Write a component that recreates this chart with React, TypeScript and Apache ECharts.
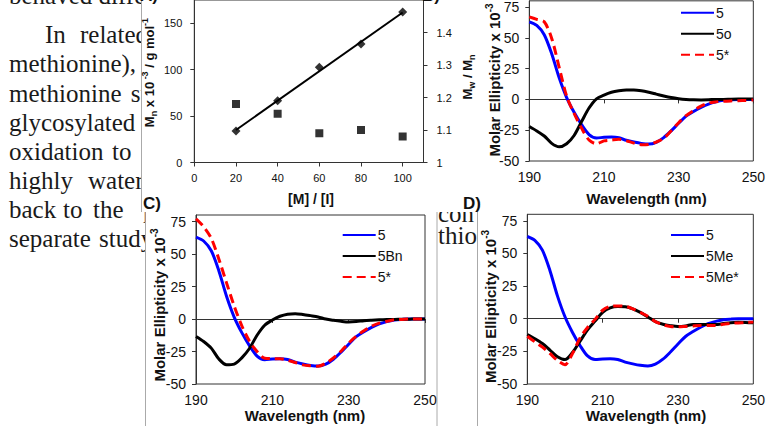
import React, { useEffect, useRef } from 'react';
import * as echarts from 'echarts';

// ---------- Panel A: Mn and Mw/Mn versus [M]/[I] ----------
const ratioMI = [20, 40, 60, 80, 100];
const mnValues = [34, 66.5, 102.5, 127.5, 162];
const pdiValues = [1.18, 1.15, 1.09, 1.1, 1.08];
const fitRatio = [20, 100];
const fitMn = [35, 161.5];

// ---------- CD spectra (wavelength, nm) ----------
const WL_START = 190;
const wavelengths = [190, 192, 194, 196, 198, 200, 202, 204, 206, 208, 210, 212, 214, 216, 218, 220, 222, 224, 226, 228, 230, 232, 234, 236, 238, 240, 242, 244, 246, 248, 250];
const cd5 = [63, 60, 52.5, 37, 17.5, 1.5, -10.5, -20.5, -28.5, -31.3, -30.8, -30.6, -31.2, -33.2, -34.6, -35.7, -36.2, -34.8, -31, -25.5, -19.4, -13.6, -9.8, -6.5, -3.8, -2, -0.8, -0.3, 0, 0, 0];
const cd5o = [-22, -25.6, -29.7, -35.7, -38.5, -36, -29.3, -18, -7, 0.5, 3.5, 5.8, 7, 7.6, 7.6, 7, 5.8, 4.3, 2.8, 1.5, 0.6, 0, -0.3, -0.4, -0.3, 0, 0, 0.2, 0.3, 0.3, 0.3];
const cd5starB = [67, 65, 63, 49.5, 26, 2.6, -11.4, -23.3, -33, -36, -33.7, -33, -32.4, -33.5, -35.5, -36.8, -36.5, -34.6, -31.6, -25.5, -18.9, -13.2, -9, -5.5, -3, -2, -1.5, -1.2, -1, -0.8, -0.5];
const cd5Bn = [-13.4, -17.3, -22.4, -30.8, -35.2, -34.7, -29.9, -22.7, -12.5, -4.8, -0.8, 2.1, 3.7, 4.1, 3.5, 2.6, 1.6, 0, -1, -1.8, -2.3, -2, -1.3, -0.9, -0.6, -0.4, -0.3, -0.2, -0.1, 0, 0];
const cd5starC = [77, 71, 62, 46, 27.8, 10, -5.2, -17, -25, -30.2, -30.5, -30.6, -31.7, -33.5, -35.3, -36, -36.3, -34, -30, -24.8, -18.5, -13.2, -9, -5.5, -3.2, -1.8, -0.6, -0.3, 0, 0, 0];
const cd5Me = [-12.1, -15.3, -19, -24, -29.1, -31.3, -25.9, -17.2, -8.5, -1.8, 4.9, 8.3, 9.3, 9.2, 7.6, 4.9, 1.4, -2.2, -4.2, -5.3, -6, -5.5, -4.4, -4.4, -4.4, -4.4, -3.7, -3, -2.7, -2.8, -3.1];
const cd5MeStar = [-13.4, -17.7, -21.7, -26.6, -32, -35.2, -26.6, -14.7, -6.7, -0.5, 6.5, 9.5, 9.8, 9.5, 7.6, 4.8, 1.8, -2.2, -4.6, -6, -6.2, -5.9, -5.5, -5.2, -5.2, -5.2, -4.3, -3.5, -3.2, -2.9, -2.6];

const legendB = ['5', '5o', '5*'];
const legendC = ['5', '5Bn', '5*'];
const legendD = ['5', '5Me', '5Me*'];

// ---------- background paragraph text ----------
const paragraphWords: [string, number, number][] = [
  ['behaved differently', 9, 3.5],
  ['In', 45, 42.7],
  ['related', 80, 42.7],
  ['methionine), and', 9, 71.7],
  ['methionine', 9, 101.7],
  ['sulfoxide', 130.7, 101.7],
  ['glycosylated', 9, 131],
  ['oxidation', 9, 160],
  ['to', 112, 160],
  ['highly', 9, 189.3],
  ['water', 88, 189.3],
  ['back', 9, 218.3],
  ['to', 63, 218.3],
  ['the', 93, 218.3],
  ['parent', 143, 218.3],
  ['separate', 9, 247.3],
  ['study', 99, 247.3],
  ['con', 438, 222],
  ['thion', 438, 244],
];

const SANS = '"Liberation Sans", Arial, sans-serif';
const SERIF = '"Liberation Serif", "Times New Roman", serif';
const BLUE = '#0000ff';
const RED = '#ff0000';
const BLACK = '#000000';

const pairs = (ys: number[]) => wavelengths.map((w, i) => [w - WL_START, ys[i]]);

function cdLine(name: string, ys: number[], color: string, axis: number, dashed = false) {
  return {
    name,
    type: 'line',
    xAxisIndex: axis,
    yAxisIndex: axis + 1,
    data: pairs(ys),
    smooth: 0.3,
    symbol: 'none',
    lineStyle: { color, width: 3, type: dashed ? [9, 5] : 'solid' },
    itemStyle: { color },
  };
}

const axisLineStyle = { lineStyle: { color: '#333', width: 1 } };

function cdX(gridIndex: number) {
  return {
    gridIndex,
    type: 'value',
    min: 0,
    max: 60,
    interval: 20,
    axisLine: axisLineStyle,
    axisTick: { show: true, inside: false, length: 4, lineStyle: { color: '#333' } },
    axisLabel: { fontSize: 14, color: '#111', margin: 9, fontFamily: SANS, formatter: (v: number) => String(v + WL_START) },
    splitLine: { show: false },
  };
}

function cdY(gridIndex: number) {
  return {
    gridIndex,
    type: 'value',
    min: -50,
    max: 80,
    interval: 25,
    axisLine: { show: true, ...axisLineStyle },
    axisTick: { show: true, inside: false, length: 4, lineStyle: { color: '#333' } },
    axisLabel: { fontSize: 14, color: '#111', margin: 10, fontFamily: SANS, showMaxLabel: false },
    splitLine: { show: false },
  };
}

function legendAt(data: string[], left: number, top: number) {
  return {
    data,
    left,
    top,
    orient: 'vertical',
    itemWidth: 33,
    itemHeight: 14,
    itemGap: 7,
    padding: 0,
    itemStyle: { opacity: 0, color: 'transparent', borderWidth: 0 },
    textStyle: { fontSize: 14, color: '#111', fontFamily: SANS, padding: [0, 0, 0, -3] },
  };
}

function rotatedTitle(text: string, rich: any, x: number, y: number) {
  return {
    type: 'text',
    x,
    y,
    rotation: Math.PI / 2,
    z: 10,
    style: { text, rich, align: 'center', verticalAlign: 'middle', textAlign: 'center', textVerticalAlign: 'middle', fill: '#111' },
  };
}

function plainText(text: string, x: number, y: number, size: number, align = 'center', weight = 'bold') {
  return {
    type: 'text',
    x,
    y,
    z: 10,
    style: {
      text,
      font: `${weight} ${size}px ${SANS}`,
      fill: '#111',
      align,
      verticalAlign: 'middle',
      textAlign: align,
      textVerticalAlign: 'middle',
    },
  };
}

const boldRich = (size: number) => ({ fontSize: size, fontWeight: 'bold', fontFamily: SANS, fill: '#111', lineHeight: size + 5 });
const supRich = (size: number) => ({ fontSize: size, fontWeight: 'bold', fontFamily: SANS, fill: '#111', verticalAlign: 'top', lineHeight: size });
const subRich = (size: number) => ({ fontSize: size, fontWeight: 'bold', fontFamily: SANS, fill: '#111', verticalAlign: 'bottom', lineHeight: size });

const cdTitleRich = { m: boldRich(15), s: supRich(10) };
const cdTitleText = '{m|Molar Ellipticity x 10}{s|-3}';

export default function App() {
  const ref = useRef<HTMLDivElement>(null);

  useEffect(() => {
    if (!ref.current) return;
    const chart = echarts.init(ref.current, null, { renderer: 'svg' });

    const graphicElements: any[] = [];
    paragraphWords.forEach(([t, x, base]) => {
      graphicElements.push({
        type: 'text',
        x,
        y: base - 8.4,
        z: -20,
        style: { text: t, font: `25px ${SERIF}`, fill: '#1a1a1a', align: 'left', verticalAlign: 'middle', textAlign: 'left', textVerticalAlign: 'middle' },
      });
    });
    // white figure frames covering the text
    graphicElements.push(
      { type: 'rect', z: -10, shape: { x: 141.5, y: -2, width: 630, height: 214 }, style: { fill: '#fff' } },
      { type: 'rect', z: -10, shape: { x: 145.5, y: 212, width: 291.5, height: 216 }, style: { fill: '#fff' } },
      { type: 'rect', z: -10, shape: { x: 477.5, y: 212, width: 292, height: 216 }, style: { fill: '#fff' } },
      { type: 'line', z: -5, shape: { x1: 141.5, y1: 0, x2: 141.5, y2: 212 }, style: { stroke: '#aaa', lineWidth: 1 } },
      { type: 'line', z: -5, shape: { x1: 145.5, y1: 222, x2: 145.5, y2: 426 }, style: { stroke: '#aaa', lineWidth: 1 } },
      { type: 'line', z: -5, shape: { x1: 437, y1: 212, x2: 437, y2: 426 }, style: { stroke: '#aaa', lineWidth: 1 } },
      { type: 'line', z: -5, shape: { x1: 477.5, y1: 212, x2: 477.5, y2: 426 }, style: { stroke: '#aaa', lineWidth: 1 } },
    );
    // panel labels
    graphicElements.push(
      plainText('A)', 158, -5, 17, 'right'),
      plainText('B)', 440, -5, 17, 'right'),
      plainText('C)', 143, 203, 17, 'left'),
      plainText('D)', 463, 203, 17, 'left'),
    );
    // axis titles
    graphicElements.push(
      plainText('[M] / [I]', 311, 199, 14),
      rotatedTitle('{m|M}{sb|n}{m| x 10}{sp| -3}{m| / g mol}{sp|-1}', { m: boldRich(13), sb: subRich(9), sp: supRich(9) }, 149, 72.5),
      rotatedTitle('{m|M}{sb|w}{m| / M}{sb|n}', { m: boldRich(13), sb: subRich(9) }, 467, 77),
      plainText('Wavelength (nm)', 646.5, 198.3, 15),
      plainText('Wavelength (nm)', 305, 415.7, 15),
      plainText('Wavelength (nm)', 646, 415.7, 15),
      rotatedTitle(cdTitleText, cdTitleRich, 494, 80),
      rotatedTitle(cdTitleText, cdTitleRich, 159, 305),
      rotatedTitle(cdTitleText, cdTitleRich, 490, 306.5),
    );

    const option: any = {
      animation: false,
      backgroundColor: '#ffffff',
      textStyle: { fontFamily: SANS },
      grid: [
        { left: 194.3, top: -6.9, width: 229.2, height: 169.4, show: true, borderColor: '#333', borderWidth: 1, backgroundColor: 'transparent' },
        { left: 529.3, top: -6.4, width: 230, height: 167.4, show: true, borderColor: '#333', borderWidth: 1, backgroundColor: 'transparent' },
        { left: 196, top: 215, width: 229, height: 169, show: true, borderColor: '#333', borderWidth: 1, backgroundColor: 'transparent' },
        { left: 527.3, top: 214.3, width: 231, height: 169.7, show: true, borderColor: '#333', borderWidth: 1, backgroundColor: 'transparent' },
      ],
      xAxis: [
        {
          gridIndex: 0,
          type: 'value',
          min: 0,
          max: 110,
          interval: 20,
          axisLine: axisLineStyle,
          axisTick: { show: true, inside: false, length: 4, lineStyle: { color: '#333' } },
          axisLabel: { fontSize: 11, color: '#111', margin: 10, fontFamily: SANS, showMaxLabel: false },
          splitLine: { show: false },
        },
        cdX(1),
        cdX(2),
        cdX(3),
      ],
      yAxis: [
        {
          gridIndex: 0,
          type: 'value',
          min: 0,
          max: 175,
          interval: 50,
          axisLine: { show: true, ...axisLineStyle },
          axisTick: { show: true, inside: false, length: 4, lineStyle: { color: '#333' } },
          axisLabel: { fontSize: 11, color: '#111', margin: 12, fontFamily: SANS, showMaxLabel: false },
          splitLine: { show: false },
        },
        {
          gridIndex: 0,
          type: 'value',
          position: 'right',
          min: 1,
          max: 1.5,
          interval: 0.1,
          axisLine: { show: true, ...axisLineStyle },
          axisTick: { show: true, inside: false, length: 4, lineStyle: { color: '#333' } },
          axisLabel: { fontSize: 11, color: '#111', margin: 13, fontFamily: SANS, showMaxLabel: false, formatter: (v: number) => String(Math.round(v * 10) / 10) },
          splitLine: { show: false },
        },
        cdY(1),
        cdY(2),
        cdY(3),
      ],
      legend: [legendAt(legendB, 680, 5.7), legendAt(legendC, 341.7, 228), legendAt(legendD, 670, 228)],
      series: [
        {
          name: 'Mn fit',
          type: 'line',
          xAxisIndex: 0,
          yAxisIndex: 0,
          data: fitRatio.map((x, i) => [x, fitMn[i]]),
          symbol: 'none',
          lineStyle: { color: BLACK, width: 2 },
        },
        {
          name: 'Mn',
          type: 'scatter',
          xAxisIndex: 0,
          yAxisIndex: 0,
          data: ratioMI.map((x, i) => [x, mnValues[i]]),
          symbol: 'diamond',
          symbolSize: 9,
          itemStyle: { color: BLACK },
        },
        {
          name: 'Mw/Mn',
          type: 'scatter',
          xAxisIndex: 0,
          yAxisIndex: 1,
          data: ratioMI.map((x, i) => [x, pdiValues[i]]),
          symbol: 'rect',
          symbolSize: 8,
          itemStyle: { color: BLACK },
        },
        cdLine('5', cd5, BLUE, 1),
        cdLine('5o', cd5o, BLACK, 1),
        cdLine('5*', cd5starB, RED, 1, true),
        cdLine('5', cd5, BLUE, 2),
        cdLine('5Bn', cd5Bn, BLACK, 2),
        cdLine('5*', cd5starC, RED, 2, true),
        cdLine('5', cd5, BLUE, 3),
        cdLine('5Me', cd5Me, BLACK, 3),
        cdLine('5Me*', cd5MeStar, RED, 3, true),
      ],
      graphic: { elements: graphicElements },
    };

    chart.setOption(option);
    return () => chart.dispose();
  }, []);

  return (
    <div
      ref={ref}
      style={{ position: 'absolute', left: 0, top: 0, width: 768, height: 426, background: '#fff' }}
    />
  );
}
